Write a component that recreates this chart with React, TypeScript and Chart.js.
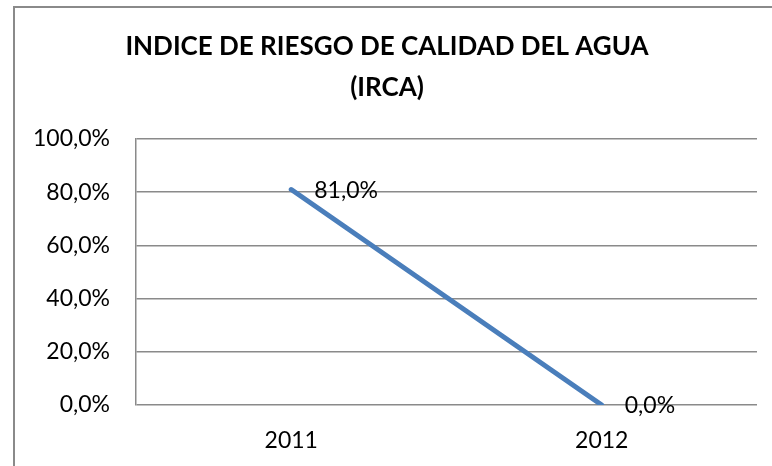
import React, { useEffect, useRef } from "react";
import { Chart, registerables } from "chart.js";

Chart.register(...registerables);

const categories = ["2011", "2012"];
const ircaValues = [81.0, 0.0];
const titleLines = ["INDICE DE RIESGO DE CALIDAD DEL AGUA", "(IRCA)"];
const yMin = 0;
const yMax = 100;
const yStep = 20;

const FONT = "Lato, 'Open Sans', sans-serif";
const fmt = (v: number) => v.toFixed(1).replace(".", ",") + "%";

const framePlugin = {
  id: "frame",
  beforeDraw(chart: any) {
    const ctx = chart.ctx;
    ctx.save();
    ctx.fillStyle = "#ffffff";
    ctx.fillRect(0, 0, chart.width, chart.height);
    ctx.strokeStyle = "#8a8a8a";
    ctx.lineWidth = 2;
    ctx.beginPath();
    ctx.moveTo(14, chart.height + 2);
    ctx.lineTo(14, 7);
    ctx.lineTo(chart.width + 2, 7);
    ctx.stroke();
    ctx.restore();
  },
  afterDraw(chart: any) {
    const ctx = chart.ctx;
    ctx.save();
    ctx.fillStyle = "#000000";
    ctx.font = `bold 26px ${FONT}`;
    ctx.textAlign = "center";
    ctx.textBaseline = "middle";
    titleLines.forEach((t, i) => ctx.fillText(t, 387, 47 + i * 41));
    // data labels
    const meta = chart.getDatasetMeta(0);
    ctx.font = `23px ${FONT}`;
    ctx.textAlign = "left";
    meta.data.forEach((pt: any, i: number) => {
      ctx.fillText(fmt(ircaValues[i]), pt.x + 23, pt.y + 1);
    });
    ctx.restore();
  },
};

export default function App() {
  const ref = useRef<HTMLCanvasElement>(null);
  useEffect(() => {
    if (!ref.current) return;
    const chart = new Chart(ref.current, {
      type: "line",
      data: {
        labels: categories,
        datasets: [
          {
            data: ircaValues,
            borderColor: "#4A7EBB",
            borderWidth: 5,
            borderCapStyle: "round",
            pointRadius: 0,
            tension: 0,
          },
        ],
      },
      options: {
        animation: false,
        responsive: false,
        layout: { padding: { top: 139, right: 15, left: 0, bottom: 0 } },
        plugins: {
          legend: { display: false },
          title: { display: false },
          tooltip: { enabled: false },
        },
        scales: {
          x: {
            offset: true,
            grid: { display: false, drawTicks: false },
            border: { display: false },
            ticks: { color: "#000", font: { family: FONT, size: 23 }, padding: 22 },
            afterFit: (s: any) => {
              s.height = 61;
            },
          },
          y: {
            min: yMin,
            max: yMax,
            ticks: {
              stepSize: yStep,
              color: "#000",
              font: { family: FONT, size: 23 },
              padding: 26,
              callback: (v: any) => fmt(Number(v)),
            },
            grid: { color: "#8a8a8a", lineWidth: 1.5, drawTicks: false },
            border: { display: true, color: "#8a8a8a", width: 1.5 },
            afterFit: (s: any) => {
              s.width = 136;
            },
          },
        },
      },
      plugins: [framePlugin],
    });
    return () => chart.destroy();
  }, []);
  return (
    <div style={{ position: "absolute", left: 0, top: 0, width: 772, height: 466 }}>
      <canvas ref={ref} width={772} height={466} style={{ display: "block" }} />
    </div>
  );
}
